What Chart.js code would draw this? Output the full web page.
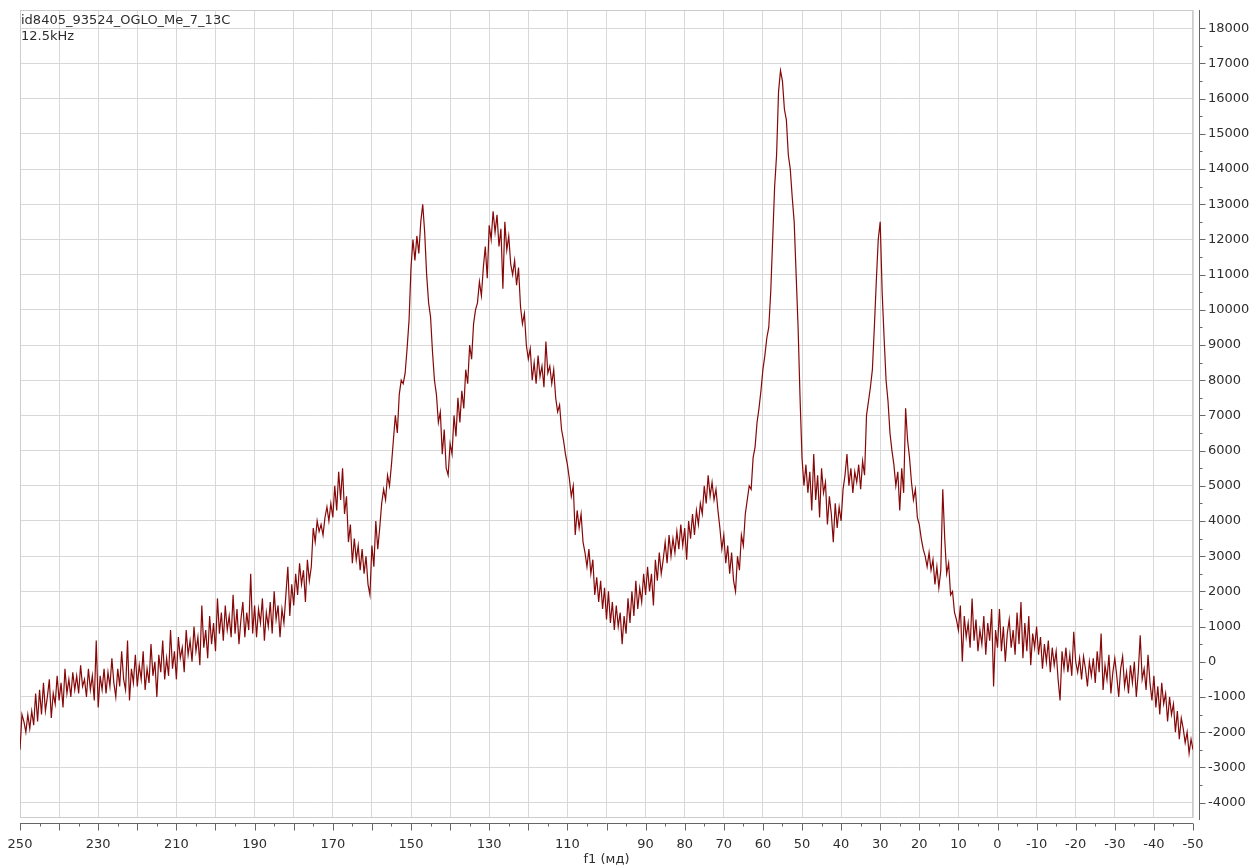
<!DOCTYPE html>
<html lang="en">
<head>
<meta charset="UTF-8">
<title>id8405_93524_OGLO_Me_7_13C</title>
<script src="https://cdn.jsdelivr.net/npm/chart.js@4.4.1/dist/chart.umd.min.js"></script>
<style>
  html, body { margin: 0; padding: 0; background: #fff; }
  #wrap { width: 1253px; height: 867px; }
</style>
</head>
<body>
<div id="wrap"><canvas id="spec" width="1253" height="867"></canvas></div>
<script>
// spectrum sampled every 0.5 ppm from 250 down to -50
const ppmStart = 250;
const ppmStep = 0.5;
const intensity = [
  // 250 .. 240.5
  -2500, -1500, -1700, -2000, -1500, -1900, -1400, -1800, -900, -1700, -800, -1500, -600, -1400, -1000, -500, -1600, -900, -1200, -400,
  // 240 .. 230.5
  -1100, -600, -1300, -200, -900, -500, -1000, -300, -800, -400, -900, -100, -700, -500, -1000, -200, -800, -400, -1100, 600,
  // 230 .. 220.5
  -1300, -400, -800, -200, -900, -300, -700, 100, -600, -1000, -200, -700, 300, -500, -800, 600, -1100, -200, -600, 200,
  // 220 .. 210.5
  -700, -100, -500, 300, -800, -200, -600, 500, -400, 0, -1000, 200, -300, 600, -500, 100, -400, 900, -200, 300,
  // 210 .. 200.5
  -500, 700, 100, 400, -300, 900, 200, 600, 0, 1000, 300, 700, -100, 1600, 400, 900, 100, 1300, 500, 1100,
  // 200 .. 190.5
  300, 1800, 800, 1400, 600, 1600, 900, 1300, 700, 1900, 800, 1500, 500, 1200, 1700, 700, 1400, 900, 2500, 800,
  // 190 .. 180.5
  1600, 700, 1500, 1100, 1800, 600, 1400, 1000, 1700, 800, 2000, 1200, 1600, 700, 1500, 1100, 1900, 2700, 1300, 2200,
  // 180 .. 170.5
  1600, 2500, 1900, 2800, 2200, 2600, 1700, 2900, 2300, 2700, 3800, 3400, 4000, 3700, 3900, 3600, 4100, 4400, 4000, 4500,
  // 170 .. 160.5
  4100, 5000, 4300, 5400, 4600, 5500, 4200, 4700, 3400, 3900, 2800, 3500, 2900, 3300, 2600, 3200, 2500, 3000, 2200, 1900,
  // 160 .. 150.5
  3300, 2700, 4000, 3200, 3800, 4500, 4900, 4600, 5300, 5000, 5600, 6300, 7000, 6500, 7600, 8000, 7900, 8200, 8900, 9700,
  // 150 .. 140.5
  11200, 12000, 11400, 12100, 11600, 12500, 13000, 12200, 11000, 10200, 9800, 8800, 8000, 7600, 6800, 7100, 5900, 6600, 5500, 5300,
  // 140 .. 130.5
  6200, 5900, 7000, 6400, 7500, 6800, 7700, 7200, 8300, 7900, 9000, 8600, 9600, 10000, 10200, 10800, 10400, 11200, 11800, 10900,
  // 130 .. 120.5
  12400, 12000, 12800, 12200, 12700, 11800, 12300, 10600, 12500, 11700, 12100, 11300, 11000, 11400, 10700, 11200, 10100, 9600, 9900, 9000,
  // 120 .. 110.5
  8600, 8900, 8000, 8500, 7900, 8700, 8100, 8400, 7800, 9100, 8200, 8400, 7900, 8300, 7500, 7100, 7300, 6600, 6300, 5900,
  // 110 .. 100.5
  5600, 5200, 4700, 5000, 3600, 4300, 3800, 4200, 3400, 3100, 2700, 3200, 2500, 2900, 1900, 2400, 1700, 2300, 1500, 2100,
  // 100 .. 90.5
  1200, 2000, 1100, 1700, 900, 1600, 1000, 1400, 500, 1300, 800, 1800, 1100, 2000, 1300, 2300, 1500, 2100, 1700, 2500,
  // 90 .. 80.5
  1900, 2700, 2000, 2500, 1600, 2900, 2300, 3100, 2500, 2900, 3400, 2800, 3600, 3000, 3500, 3100, 3700, 3200, 3900, 3300,
  // 80 .. 70.5
  3800, 2900, 4000, 3500, 4200, 3600, 4300, 3900, 4500, 4200, 5000, 4500, 5300, 4700, 5100, 4600, 4900, 4300, 3800, 3200,
  // 70 .. 60.5
  3600, 2800, 3300, 2500, 3100, 2300, 2000, 3000, 2600, 3600, 3300, 4200, 4600, 5000, 4900, 5800, 6100, 6800, 7200, 7700,
  // 60 .. 50.5
  8300, 8700, 9200, 9500, 10500, 12000, 13500, 14400, 16200, 16800, 16500, 15700, 15400, 14400, 14000, 13200, 12500, 11000, 9500, 7500,
  // 50 .. 40.5
  5800, 5000, 5600, 4800, 5400, 4300, 5900, 4600, 5300, 4100, 5500, 4800, 5100, 3900, 4700, 4200, 3400, 4500, 3800, 4400,
  // 40 .. 30.5
  4000, 4900, 5300, 5900, 5000, 5500, 4800, 5400, 5100, 5600, 4900, 5700, 5300, 7000, 7400, 7800, 8300, 9500, 10800, 12000,
  // 30 .. 20.5
  12500, 10500, 9200, 8000, 7400, 6500, 6000, 5600, 5000, 5400, 4300, 5500, 4800, 7200, 6300, 5800, 5100, 4600, 4900, 4100,
  // 20 .. 10.5
  3900, 3500, 3200, 3000, 2700, 3100, 2600, 2900, 2200, 2700, 2100, 2600, 4900, 3500, 2500, 2800, 1900, 2000, 1400, 1200,
  // 10 .. 0.5
  900, 1600, 0, 1300, 700, 1100, 400, 1800, 600, 1200, 300, 900, 500, 1300, 200, 1100, 600, 1500, -700, 900,
  // 0 .. -9.5
  400, 1500, 300, 1000, 0, 800, 1200, 400, 900, 200, 1400, 500, 1700, 100, 1100, 300, 1300, -100, 800, 400,
  // -10 .. -19.5
  1000, 200, 700, -200, 500, 0, 600, -300, 400, -100, 300, -500, -1100, 300, -200, 400, -300, 200, -400, 850,
  // -20 .. -29.5
  0, -300, 100, -500, 150, -200, -700, 0, -400, 100, -600, 300, -300, 800, -800, -100, -500, 200, -900, -300,
  // -30 .. -39.5
  100, -400, -1000, -200, 150, -700, -300, -900, -100, -600, 0, -1000, -300, 750, -500, -200, -800, 200, -600, -1100,
  // -40 .. -49.5
  -400, -1300, -700, -1500, -600, -1200, -900, -1700, -1000, -1500, -1200, -2000, -1400, -2200, -1600, -1900, -2300, -2000, -2600, -2200,
  // -50
  -2500
];

const xTicks = [250, 240, 230, 220, 210, 200, 190, 180, 170, 160, 150, 140, 130, 120, 110, 100, 90, 80, 70, 60, 50, 40, 30, 20, 10, 0, -10, -20, -30, -40, -50];
const xLabels = [250, 230, 210, 190, 170, 150, 130, 110, 90, 80, 70, 60, 50, 40, 30, 20, 10, 0, -10, -20, -30, -40, -50];
const yTicks = [-4000, -3000, -2000, -1000, 0, 1000, 2000, 3000, 4000, 5000, 6000, 7000, 8000, 9000, 10000, 11000, 12000, 13000, 14000, 15000, 16000, 17000, 18000];

const titleLines = ['id8405_93524_OGLO_Me_7_13C', '12.5kHz'];
const xTitle = 'f1 (мд)';

const FONT = '"DejaVu Sans", Verdana, sans-serif';
const TEXT = '#2e2e2e';
const GRID = '#d8d8d8';
const AXIS = '#666666';

const points = intensity.map((v, i) => ({ x: ppmStart - i * ppmStep, y: v }));

// frame, axis lines, tick marks and texts that Chart.js doesn't draw the same way
const extras = {
  id: 'extras',
  beforeDatasetsDraw(chart) {
    const { ctx, chartArea: a } = chart;
    ctx.save();
    ctx.strokeStyle = '#cccccc';
    ctx.lineWidth = 1;
    ctx.strokeRect(a.left + 0.5, a.top + 0.5, a.right - a.left - 1, a.bottom - a.top - 1);
    ctx.restore();
  },
  afterDraw(chart) {
    const { ctx, chartArea: a, scales } = chart;
    const xs = scales.x, ys = scales.y;
    ctx.save();
    ctx.strokeStyle = AXIS;
    ctx.lineWidth = 1;
    // right axis
    const ax = a.right + 6.5;
    ctx.beginPath();
    ctx.moveTo(ax, a.top);
    ctx.lineTo(ax, a.bottom + 2);
    yTicks.forEach((v, i) => {
      const y = Math.round(ys.getPixelForValue(v)) + 0.5;
      ctx.moveTo(ax, y); ctx.lineTo(ax + 6, y);
      if (i < yTicks.length - 1) {
        const ym = Math.round(ys.getPixelForValue(v + 500)) + 0.5;
        ctx.moveTo(ax, ym); ctx.lineTo(ax + 3, ym);
      }
    });
    // bottom axis
    const ay = a.bottom + 5.5;
    ctx.moveTo(a.left, ay);
    ctx.lineTo(a.right, ay);
    xTicks.forEach((v, i) => {
      const x = Math.round(xs.getPixelForValue(v)) + 0.5;
      ctx.moveTo(x, ay); ctx.lineTo(x, ay + 7);
      if (i < xTicks.length - 1) {
        const xm = Math.round(xs.getPixelForValue(v - 5)) + 0.5;
        ctx.moveTo(xm, ay); ctx.lineTo(xm, ay + 3);
      }
    });
    ctx.stroke();

    ctx.fillStyle = TEXT;
    ctx.font = '13px ' + FONT;
    ctx.textBaseline = 'top';
    ctx.textAlign = 'left';
    ctx.fillText(titleLines[0], a.left + 1, a.top + 4);
    ctx.fillText(titleLines[1], a.left + 1, a.top + 20);
    ctx.textAlign = 'center';
    ctx.textBaseline = 'middle';
    ctx.fillText(xTitle, (a.left + a.right) / 2, 860);
    ctx.restore();
  }
};

new Chart(document.getElementById('spec'), {
  type: 'line',
  data: {
    datasets: [{
      data: points,
      borderColor: '#870808',
      borderWidth: 1.2,
      pointRadius: 0,
      tension: 0,
      fill: false
    }]
  },
  options: {
    responsive: false,
    animation: false,
    events: [],
    layout: { padding: { left: 20, top: 10, right: 0, bottom: 0 } },
    plugins: { legend: { display: false }, tooltip: { enabled: false } },
    scales: {
      x: {
        type: 'linear',
        reverse: true,
        min: -50,
        max: 250,
        afterBuildTicks: s => { s.ticks = xTicks.map(v => ({ value: v })); },
        afterFit: s => { s.height = 49; s.paddingLeft = 0; s.paddingRight = 0; },
        grid: { color: GRID, drawTicks: false },
        border: { display: false },
        ticks: {
          autoSkip: false,
          maxRotation: 0,
          padding: 19,
          color: TEXT,
          font: { family: FONT, size: 13 },
          callback: v => xLabels.includes(v) ? String(v) : ''
        }
      },
      y: {
        position: 'right',
        min: -4440,
        max: 18520,
        afterBuildTicks: s => { s.ticks = yTicks.map(v => ({ value: v })); },
        afterFit: s => { s.width = 60; s.paddingTop = 0; s.paddingBottom = 0; },
        grid: { color: GRID, drawTicks: false },
        border: { display: false },
        ticks: {
          padding: 15,
          color: TEXT,
          font: { family: FONT, size: 13 },
          callback: v => String(v)
        }
      }
    }
  },
  plugins: [extras]
});
</script>
</body>
</html>
